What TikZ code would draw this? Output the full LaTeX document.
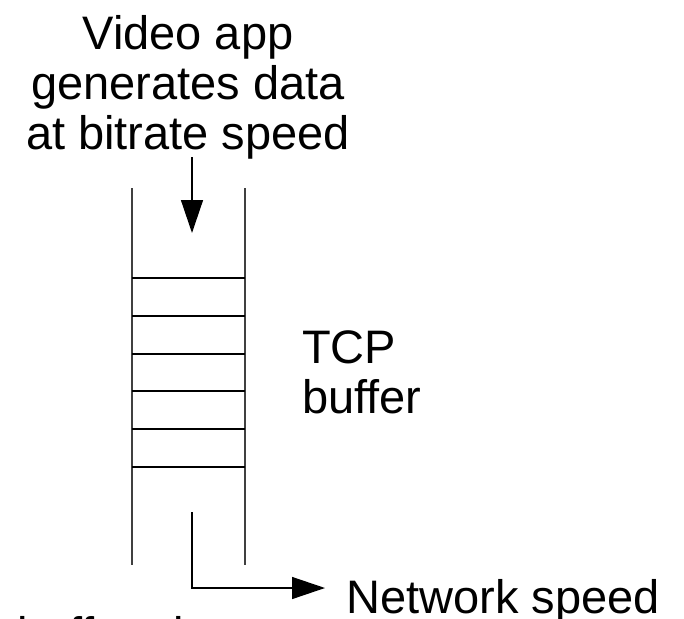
\documentclass[tikz,border=0pt]{standalone}
\usepackage{fontspec}
\setmainfont{Liberation Sans}
\usetikzlibrary{arrows.meta}
\tikzset{
  lbl/.style={inner sep=0pt, font=\fontsize{47}{50}\selectfont},
  wall/.style={draw=black!75, line width=1.4pt},
  slot/.style={draw=black, line width=1.4pt},
  flow/.style={draw=black, line width=1.4pt, -{Triangle[length=33pt,width=22pt]}},
}
\begin{document}
\begin{tikzpicture}[x=1pt,y=-1pt]
\useasboundingbox (0,0) rectangle (684,618);
\clip (0,0) rectangle (684,618);

% source label
\node[lbl, anchor=north, align=center] (app) at (188,15)
  {Video app\\generates data\\at bitrate speed};

% buffer walls
\coordinate (tl) at (132,188);
\coordinate (bl) at (132,565);
\coordinate (tr) at (245,188);
\coordinate (br) at (245,565);
\draw[wall] (tl) -- (bl);
\draw[wall] (tr) -- (br);

% buffer slots
\foreach \y in {278,316,354,391,429,467}
  \draw[slot] (132,\y) -- (245,\y);

% data entering the buffer
\coordinate (in0) at (192,157);
\coordinate (in1) at (192,233);
\draw[flow] (in0) -- (in1);

% data leaving toward the network
\coordinate (out0) at (192,512);
\coordinate (out1) at (325,588);
\draw[flow] (out0) |- (out1);

\node[lbl, anchor=base west] (net) at (346,613) {Network speed};
\node[lbl, anchor=north west, align=left] (tcp) at (302,330) {TCP\\buffer};
\node[lbl, anchor=base west] (size) at (17,650) {buffer size};
\end{tikzpicture}
\end{document}
